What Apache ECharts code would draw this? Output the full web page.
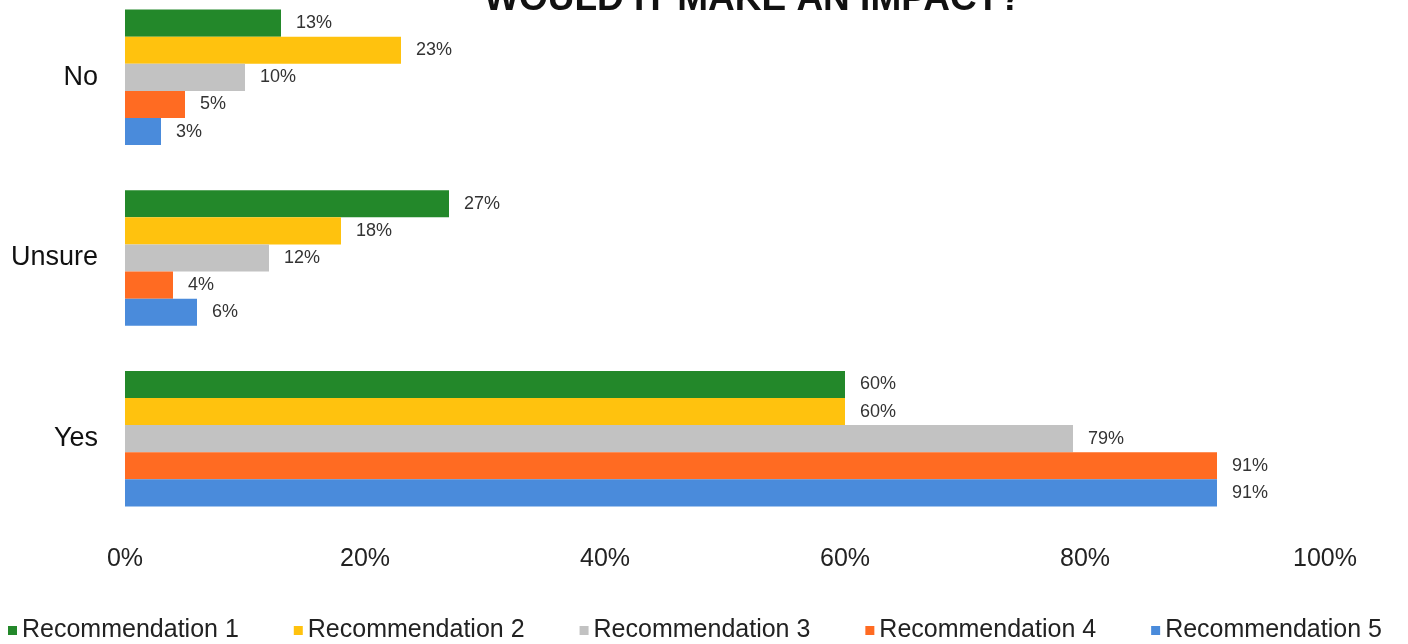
<!DOCTYPE html>
<html>
<head>
<meta charset="utf-8">
<script src="https://cdn.jsdelivr.net/npm/echarts@6/dist/echarts.min.js"></script>
<style>
html,body{margin:0;padding:0;background:#fff;}
#chart{width:1408px;height:644px;}
</style>
</head>
<body>
<div id="chart"></div>
<script>
const categories = ['No', 'Unsure', 'Yes'];
const seriesNames = ['Recommendation 1', 'Recommendation 2', 'Recommendation 3', 'Recommendation 4', 'Recommendation 5'];
const rec1 = [13, 27, 60];
const rec2 = [23, 18, 60];
const rec3 = [10, 12, 79];
const rec4 = [5, 4, 91];
const rec5 = [3, 6, 91];
const xTicks = [0, 20, 40, 60, 80, 100];
const colors = ['#23882A', '#FFC20E', '#C2C2C2', '#FF6B22', '#4A8BDB'];

const values = [rec1, rec2, rec3, rec4, rec5];
const font = 'Liberation Sans, Arial, sans-serif';

const chart = echarts.init(document.getElementById('chart'));
chart.setOption({
  animation: false,
  backgroundColor: '#ffffff',
  title: {
    text: 'WOULD IT MAKE AN IMPACT?',
    left: 479,
    top: -24,
    textStyle: { fontFamily: font, fontSize: 37, fontWeight: 'bold', color: '#111' }
  },
  legend: {
    data: seriesNames,
    left: 3,
    bottom: -4,
    itemWidth: 9,
    itemHeight: 9,
    itemGap: 55,
    icon: 'rect',
    textStyle: { fontFamily: font, fontSize: 25, color: '#222' }
  },
  grid: { left: 125, width: 1200, top: -13, height: 542, containLabel: false, outerBoundsMode: 'none' },
  xAxis: {
    type: 'value',
    min: 0,
    max: 100,
    interval: 20,
    axisLine: { show: false },
    axisTick: { show: false },
    splitLine: { show: false },
    axisLabel: {
      margin: 18,
      fontFamily: font,
      fontSize: 25,
      color: '#222',
      formatter: function (v) { return xTicks.indexOf(v) >= 0 ? v + '%' : ''; }
    }
  },
  yAxis: {
    type: 'category',
    data: categories,
    inverse: true,
    axisLine: { show: false },
    axisTick: { show: false },
    axisLabel: { margin: 27, fontFamily: font, fontSize: 27, color: '#111' }
  },
  series: seriesNames.map(function (name, i) {
    return {
      name: name,
      type: 'bar',
      data: values[i],
      barGap: '0%',
      barCategoryGap: '25%',
      itemStyle: { color: colors[i] },
      label: {
        show: true,
        position: 'right',
        distance: 15,
        fontFamily: font,
        fontSize: 18,
        color: '#333',
        formatter: '{c}%'
      }
    };
  })
});
</script>
</body>
</html>
